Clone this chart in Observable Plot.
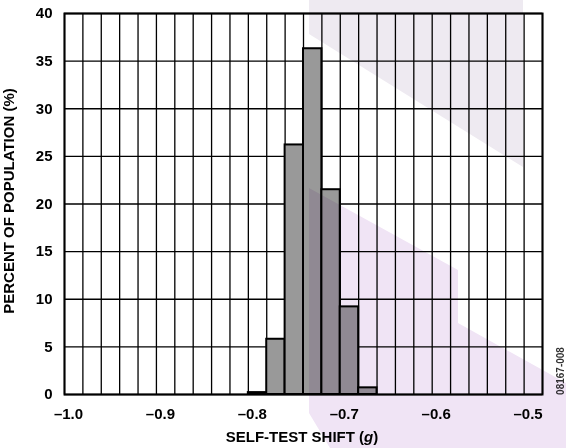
<!DOCTYPE html>
<html>
<head>
<meta charset="utf-8">
<script src="https://cdn.jsdelivr.net/npm/d3@7"></script>
<script src="https://cdn.jsdelivr.net/npm/@observablehq/plot@0.6"></script>
<style>
  html, body { margin: 0; padding: 0; background: #fff; }
  #wrap { position: relative; width: 566px; height: 448px; overflow: hidden; }
  #wm { position: absolute; left: 0; top: 0; mix-blend-mode: multiply; pointer-events: none; }
</style>
</head>
<body>
<div id="wrap"></div>
<script>
// Histogram bins (self-test shift, g) and percent of population
const binLow  = [-0.80, -0.78, -0.76, -0.74, -0.72, -0.70, -0.68];
const binHigh = [-0.78, -0.76, -0.74, -0.72, -0.70, -0.68, -0.66];
const percent = [0.2, 5.8, 26.2, 36.3, 21.5, 9.2, 0.7];
const xTicks = [-1.0, -0.9, -0.8, -0.7, -0.6, -0.5];
const yTicks = [0, 5, 10, 15, 20, 25, 30, 35, 40];
const xGridStep = 0.02;

const bins = binLow.map((lo, i) => ({lo, hi: binHigh[i], p: percent[i]}));
const xGrid = d3.range(0, 27).map(i => +(-1.0 + i * xGridStep).toFixed(2));

const font = "'Liberation Sans', Arial, Helvetica, sans-serif";

const plot = Plot.plot({
  width: 566,
  height: 448,
  marginLeft: 64,
  marginRight: 24,
  marginTop: 13,
  marginBottom: 54,
  style: {fontFamily: font, fontWeight: "bold", fontSize: "15px", color: "#000", background: "transparent"},
  x: {domain: [-1.0, -0.48]},
  y: {domain: [0, 40]},
  marks: [
    Plot.gridX(xGrid, {stroke: "#000", strokeOpacity: 1, strokeWidth: 1.3}),
    Plot.gridY(yTicks, {stroke: "#000", strokeOpacity: 1, strokeWidth: 1.3}),
    Plot.rectY(bins, {x1: "lo", x2: "hi", y: "p", fill: "#999999", stroke: "#000", strokeWidth: 2}),
    Plot.frame({stroke: "#000", strokeWidth: 2}),
    Plot.axisX(xTicks, {tickSize: 0, tickPadding: 14, dx: 4, label: null,
      tickFormat: d => (d < 0 ? "\u2013" : "") + Math.abs(d).toFixed(1),
      fontSize: 15, fontWeight: "bold"}),
    Plot.axisY(yTicks, {tickSize: 0, tickPadding: 12, label: null,
      fontSize: 15, fontWeight: "bold"})
  ]
});

const wrap = document.getElementById("wrap");
wrap.appendChild(plot);

const svg = d3.select(plot);
// Axis titles
const xt = svg.append("text")
  .attr("x", 302).attr("y", 442)
  .attr("text-anchor", "middle")
  .style("font-family", font).style("font-weight", "bold").style("font-size", "15px").attr("fill", "#000");
xt.append("tspan").text("SELF-TEST SHIFT (");
xt.append("tspan").style("font-style", "italic").text("g");
xt.append("tspan").text(")");

svg.append("text")
  .attr("transform", "translate(13.5,201) rotate(-90)")
  .attr("text-anchor", "middle")
  .style("font-family", font).style("font-weight", "bold").style("font-size", "15px").attr("fill", "#000")
  .text("PERCENT OF POPULATION (%)");

svg.append("text")
  .attr("transform", "translate(564,371) rotate(-90)")
  .attr("text-anchor", "middle")
  .style("font-family", font).style("font-size", "10px").attr("fill", "#333")
  .text("08167-008");

// Decorative background watermark (not data)
const ns = "http://www.w3.org/2000/svg";
const wm = document.createElementNS(ns, "svg");
wm.setAttribute("id", "wm");
wm.setAttribute("width", 566);
wm.setAttribute("height", 448);
wm.innerHTML =
  '<polygon points="309,0 523,0 523,167 309,34" fill="rgb(238,234,241)"/>' +
  '<polygon points="309,188 458,270 458,323 566,383 566,448 330,448 309,413" fill="rgb(240,228,245)"/>';
wrap.appendChild(wm);
</script>
</body>
</html>
